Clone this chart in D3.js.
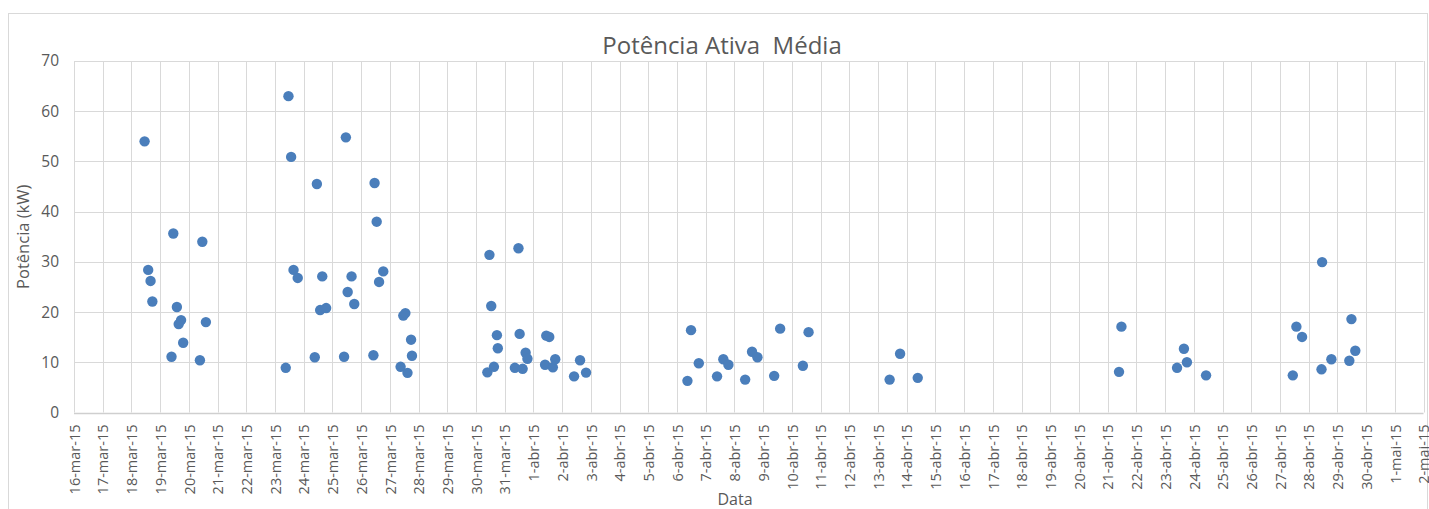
<!DOCTYPE html>
<html>
<head>
<meta charset="utf-8">
<script src="https://cdn.jsdelivr.net/npm/d3@7/dist/d3.min.js"></script>
<style>
  html, body { margin: 0; padding: 0; background: #fff; }
  svg { display: block; }
  text { font-family: "Open Sans", "Noto Sans", sans-serif; fill: #595959; }
</style>
</head>
<body>
<svg id="chart" width="1429" height="509"></svg>
<script>
// ---- data ----
const title = "Potência Ativa  Média";
const yTitle = "Potência (kW)";
const xTitle = "Data";
const monthNames = ["jan","fev","mar","abr","mai","jun","jul","ago","set","out","nov","dez"];
const xDomain = ["2015-03-16 00:00", "2015-05-02 00:00"];
const yTicks = [0, 10, 20, 30, 40, 50, 60, 70];

const dates = [
  "2015-03-18 11:00","2015-03-18 14:00","2015-03-18 16:00","2015-03-18 17:30",
  "2015-03-19 09:30","2015-03-19 11:00","2015-03-19 14:00","2015-03-19 15:30","2015-03-19 17:30","2015-03-19 19:15",
  "2015-03-20 09:15","2015-03-20 11:15","2015-03-20 14:15",
  "2015-03-23 09:00","2015-03-23 11:15","2015-03-23 13:30","2015-03-23 15:30","2015-03-23 19:00",
  "2015-03-24 09:15","2015-03-24 11:00","2015-03-24 13:45","2015-03-24 15:30","2015-03-24 18:45",
  "2015-03-25 09:45","2015-03-25 11:15","2015-03-25 12:45","2015-03-25 16:00","2015-03-25 18:15",
  "2015-03-26 10:15","2015-03-26 11:15","2015-03-26 13:00","2015-03-26 15:00","2015-03-26 18:30",
  "2015-03-27 09:00","2015-03-27 11:15","2015-03-27 13:00","2015-03-27 14:45","2015-03-27 17:45","2015-03-27 18:30",
  "2015-03-30 09:30","2015-03-30 11:15","2015-03-30 12:45","2015-03-30 15:00","2015-03-30 17:30","2015-03-30 18:15",
  "2015-03-31 08:30","2015-03-31 11:30","2015-03-31 12:30","2015-03-31 15:00","2015-03-31 17:30","2015-03-31 19:00",
  "2015-04-01 09:45","2015-04-01 10:45","2015-04-01 13:15","2015-04-01 16:15","2015-04-01 18:15",
  "2015-04-02 10:00","2015-04-02 15:00","2015-04-02 20:00",
  "2015-04-06 08:45","2015-04-06 11:45","2015-04-06 18:15",
  "2015-04-07 09:30","2015-04-07 14:45","2015-04-07 19:00",
  "2015-04-08 09:00","2015-04-08 14:45","2015-04-08 19:15",
  "2015-04-09 09:15","2015-04-09 14:15",
  "2015-04-10 09:15","2015-04-10 14:00",
  "2015-04-13 09:45","2015-04-13 18:30",
  "2015-04-14 09:15",
  "2015-04-21 09:30","2015-04-21 11:30",
  "2015-04-23 10:00","2015-04-23 15:45","2015-04-23 18:15",
  "2015-04-24 10:15",
  "2015-04-27 10:45","2015-04-27 13:45","2015-04-27 18:30",
  "2015-04-28 10:45","2015-04-28 11:15","2015-04-28 19:00",
  "2015-04-29 10:00","2015-04-29 11:45","2015-04-29 15:00"
];
const power = [
  54.0, 28.4, 26.2, 22.1,
  11.1, 35.65, 21.0, 17.6, 18.4, 13.9,
  10.4, 34.0, 18.0,
  8.9, 63.0, 50.9, 28.4, 26.8,
  11.0, 45.5, 20.4, 27.1, 20.8,
  11.1, 54.8, 24.0, 27.1, 21.6,
  11.4, 45.7, 38.0, 26.0, 28.1,
  9.1, 19.3, 19.8, 7.9, 14.5, 11.3,
  8.0, 31.4, 21.2, 9.1, 15.4, 12.8,
  8.9, 32.7, 15.65, 8.7, 11.9, 10.7,
  9.5, 15.3, 15.05, 9.0, 10.6,
  7.2, 10.4, 7.95,
  6.3, 16.4, 9.8,
  7.2, 10.6, 9.5,
  6.55, 12.1, 11.0,
  7.3, 16.7,
  9.3, 16.0,
  6.55, 11.7,
  6.9,
  8.1, 17.1,
  8.9, 12.7, 10.0,
  7.4,
  7.4, 17.1, 15.05,
  8.6, 29.95, 10.6,
  10.3, 18.6, 12.3
];

// ---- chart ----
const parse = d3.utcParse("%Y-%m-%d %H:%M");
const points = dates.map((d, i) => ({ t: parse(d), v: power[i] }));

const svg = d3.select("#chart");
const m = { left: 74, right: 1423.5, top: 61, bottom: 412.5 };
const FONT = '"Open Sans", "Noto Sans", sans-serif';

// chart area border
svg.append("rect")
  .attr("x", 8.5).attr("y", 13.5)
  .attr("width", 1419).attr("height", 520)
  .attr("fill", "#fff").attr("stroke", "#d9d9d9").attr("stroke-width", 1);

const x = d3.scaleUtc().domain(xDomain.map(parse)).range([m.left, m.right]);
const y = d3.scaleLinear().domain([0, 70]).range([m.bottom, m.top]);

const xTickVals = d3.utcDay.range(parse(xDomain[0]), d3.utcDay.offset(parse(xDomain[1]), 1));
const fmt = d => `${d.getUTCDate()}-${monthNames[d.getUTCMonth()]}-${String(d.getUTCFullYear()).slice(2)}`;

// gridlines
svg.append("g").selectAll("line").data(xTickVals).join("line")
  .attr("x1", d => Math.round(x(d)) + 0.5).attr("x2", d => Math.round(x(d)) + 0.5)
  .attr("y1", m.top).attr("y2", m.bottom)
  .attr("stroke", "#d9d9d9").attr("stroke-width", 1);
svg.append("g").selectAll("line").data(yTicks).join("line")
  .attr("x1", m.left).attr("x2", m.right)
  .attr("y1", d => Math.round(y(d)) + 0.5).attr("y2", d => Math.round(y(d)) + 0.5)
  .attr("stroke", d => d === 0 ? "#cfcfcf" : "#d9d9d9").attr("stroke-width", d => d === 0 ? 1.5 : 1);

// y axis labels
const yAxis = d3.axisLeft(y).tickValues(yTicks).tickSize(0).tickPadding(15);
const gy = svg.append("g").attr("transform", `translate(${m.left},0)`).call(yAxis);
gy.select(".domain").remove();
gy.selectAll("text").attr("font-size", 15.5).attr("fill", "#595959").style("font-family", FONT);

// x axis labels
const xAxis = d3.axisBottom(x).tickValues(xTickVals).tickFormat(fmt).tickSize(0);
const gx = svg.append("g").attr("transform", `translate(0,${m.bottom})`).call(xAxis);
gx.select(".domain").remove();
gx.selectAll("text")
  .attr("font-size", 14.5).attr("fill", "#595959")
  .style("font-family", FONT)
  .attr("text-anchor", "end")
  .attr("transform", "rotate(-90)")
  .attr("x", -12).attr("y", 0).attr("dy", "0.36em");

// points
svg.append("g").selectAll("circle").data(points).join("circle")
  .attr("cx", d => x(d.t)).attr("cy", d => y(d.v)).attr("r", 5.2)
  .attr("fill", "#4a7ebb");

// titles
svg.append("text").attr("x", 722).attr("y", 54).attr("text-anchor", "middle")
  .attr("font-size", 24).style("white-space", "pre").attr("xml:space", "preserve").text(title);
svg.append("text").attr("transform", `translate(29,${(m.top + m.bottom) / 2}) rotate(-90)`)
  .attr("text-anchor", "middle").attr("font-size", 16.5).text(yTitle);
svg.append("text").attr("x", 735).attr("y", 505).attr("text-anchor", "middle")
  .attr("font-size", 16).text(xTitle);
</script>
</body>
</html>
